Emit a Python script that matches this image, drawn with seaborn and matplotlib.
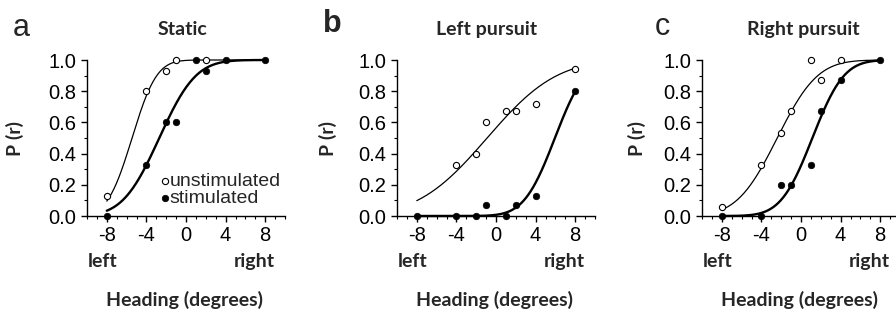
import math
import numpy as np
import matplotlib
matplotlib.use('Agg')
import matplotlib.pyplot as plt
from matplotlib.ticker import MultipleLocator
import seaborn as sns

# proportion of "right" choices per heading (deg)
a_open_x = [-8, -4, -2, -1, 2]
a_open_y = [0.13, 0.80, 0.93, 1.0, 1.0]
a_fill_x = [-8, -4, -2, -1, 1, 2, 4, 8]
a_fill_y = [0.0, 0.33, 0.60, 0.60, 1.0, 0.93, 1.0, 1.0]

b_open_x = [-4, -2, -1, 1, 2, 4, 8]
b_open_y = [0.33, 0.40, 0.60, 0.67, 0.67, 0.72, 0.94]
b_fill_x = [-8, -4, -2, -1, 1, 2, 4, 8]
b_fill_y = [0.0, 0.0, 0.0, 0.07, 0.0, 0.07, 0.13, 0.80]

c_open_x = [-8, -4, -2, -1, 1, 2, 4]
c_open_y = [0.06, 0.33, 0.53, 0.67, 1.0, 0.87, 1.0]
c_fill_x = [-8, -4, -2, -1, 1, 2, 4, 8]
c_fill_y = [0.0, 0.0, 0.20, 0.20, 0.33, 0.67, 0.87, 1.0]

# psychometric fits (cumulative gaussian: mean, sd)
fit_open = [(-5.45, 1.95), (-0.9, 5.5), (-2.4, 3.2)]
fit_fill = [(-2.7, 2.9), (5.95, 2.45), (1.15, 2.5)]

titles = ['Static', 'Left pursuit', 'Right pursuit']
letters = ['a', 'b', 'c']

sns.set_style('ticks')
plt.rcParams['font.family'] = ['Liberation Sans', 'DejaVu Sans']
plt.rcParams['axes.unicode_minus'] = False

W, H = 896, 311
fig = plt.figure(figsize=(W / 100, H / 100), dpi=100)

def cumgauss(x, mu, sd):
    return np.array([0.5 * (1 + math.erf((v - mu) / (sd * math.sqrt(2)))) for v in x])

panels = [
    (a_open_x, a_open_y, a_fill_x, a_fill_y),
    (b_open_x, b_open_y, b_fill_x, b_fill_y),
    (c_open_x, c_open_y, c_fill_x, c_fill_y),
]
ax_left = [87, 397, 702]
title_x = [182, 487, 803]
letter_x = [13, 323, 655]
letter_base = [36, 32, 35]
ylab_x = [15, 328, 637]
top, bottom = 60, 216
bold = dict(family=['Lato', 'DejaVu Sans'], weight='bold', fontsize=14)

xs = np.linspace(-8, 8, 200)
for i, (ox, oy, fx, fy) in enumerate(panels):
    ax = fig.add_axes([ax_left[i] / W, (H - bottom) / H, 198 / W, (bottom - top) / H])
    sns.lineplot(x=xs, y=cumgauss(xs, *fit_open[i]), ax=ax, color='black', lw=0.9,
                 estimator=None, sort=False, clip_on=False)
    sns.lineplot(x=xs, y=cumgauss(xs, *fit_fill[i]), ax=ax, color='black', lw=1.7,
                 estimator=None, sort=False, clip_on=False)
    sns.scatterplot(x=ox, y=oy, ax=ax, s=20, color='white', edgecolor='black',
                    linewidth=0.8, clip_on=False, zorder=3, label='unstimulated')
    sns.scatterplot(x=fx, y=fy, ax=ax, s=22, color='black', edgecolor='black',
                    linewidth=0.5, clip_on=False, zorder=4, label='stimulated')
    ax.set_xlim(-10, 10)
    ax.set_ylim(0, 1.0)
    ax.set_xticks([-8, -4, 0, 4, 8])
    ax.set_yticks([0, 0.2, 0.4, 0.6, 0.8, 1.0])
    ax.set_yticklabels(['0.0', '0.2', '0.4', '0.6', '0.8', '1.0'])
    ax.xaxis.set_minor_locator(MultipleLocator(1))
    ax.yaxis.set_minor_locator(MultipleLocator(0.1))
    ax.tick_params(which='major', length=4, width=1, labelsize=14.5, color='black', labelcolor='black')
    ax.tick_params(which='minor', length=2.5, width=0.8, color='black')
    ax.set_xlabel('')
    ax.set_ylabel('')
    for s in ['left', 'bottom']:
        ax.spines[s].set_linewidth(1.0)
        ax.spines[s].set_color('black')
    sns.despine(ax=ax)
    if i == 0:
        ax.legend(loc='upper left', bbox_to_anchor=((163 - ax_left[i]) / 198, (bottom - 172) / 156),
                  frameon=False, fontsize=14, handlelength=0.2, handletextpad=0.15,
                  labelspacing=0.0, borderpad=0, borderaxespad=0, scatterpoints=1)
    else:
        ax.get_legend().remove()

    fig.text(title_x[i] / W, 1 - 35 / H, titles[i], ha='center', va='baseline', **bold)
    fig.text(letter_x[i] / W, 1 - letter_base[i] / H, letters[i], ha='left', va='baseline',
             fontsize=22, weight='bold' if i == 1 else 'normal')
    fig.text(ylab_x[i] / W, 1 - 138 / H, 'P (r)', rotation=90, ha='center', va='center', **bold)
    fig.text((ax_left[i] + 1) / W, 1 - 267 / H, 'left', ha='left', va='baseline', **bold)
    fig.text((ax_left[i] + 188) / W, 1 - 267 / H, 'right', ha='right', va='baseline', **bold)
    fig.text((ax_left[i] + 97) / W, 1 - 306 / H, 'Heading (degrees)', ha='center', va='baseline', **bold)

fig.savefig('out.png', dpi=100)
